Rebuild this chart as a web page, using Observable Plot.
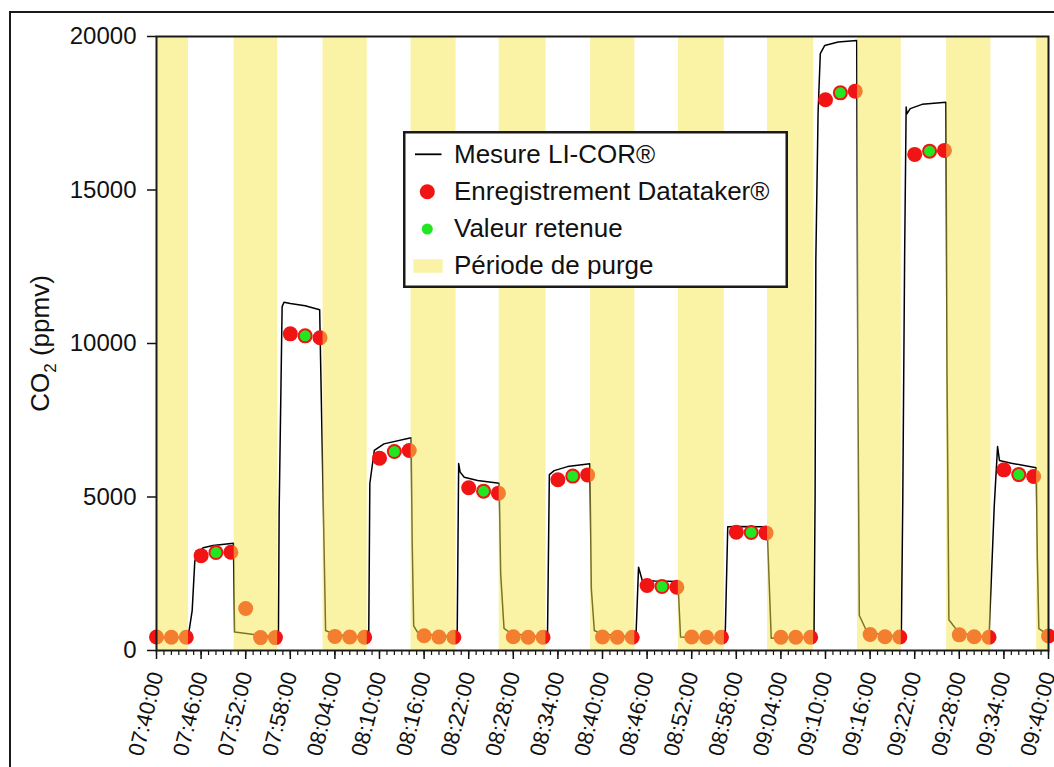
<!DOCTYPE html>
<html>
<head>
<meta charset="utf-8">
<script src="https://cdn.jsdelivr.net/npm/d3@7"></script>
<script src="https://cdn.jsdelivr.net/npm/@observablehq/plot@0.6"></script>
<style>
  html, body { margin: 0; padding: 0; background: #fff; }
  #wrap { position: relative; width: 1054px; height: 767px; overflow: hidden; font-family: "Liberation Sans", Arial, sans-serif; }
  #outer { position: absolute; left: 9px; top: 11px; width: 1100px; height: 800px; border-left: 2.5px solid #1a1a1a; border-top: 2.5px solid #1a1a1a; }
  #chart { position: absolute; left: 0; top: 0; }
  #legend { position: absolute; left: 403px; top: 131px; }
</style>
</head>
<body>
<div id="wrap">
  <div id="outer"></div>
  <div id="chart"></div>
  <div id="legend"></div>
</div>
<script>
// ---- Data ----
const xStart = "07:40:00";
const xEnd = "09:40:00";

const tickLabels = ["07:40:00","07:46:00","07:52:00","07:58:00","08:04:00","08:10:00","08:16:00",
  "08:22:00","08:28:00","08:34:00","08:40:00","08:46:00","08:52:00","08:58:00","09:04:00",
  "09:10:00","09:16:00","09:22:00","09:28:00","09:34:00","09:40:00"];
const yTicks = [0, 5000, 10000, 15000, 20000];

// LI-COR continuous measurement (ppmv)
const licorTime = ["07:40:00","07:42:00","07:44:15","07:44:48","07:45:09","07:45:30","07:46:18","07:47:36","07:50:21",
  "07:50:30","07:54:00","07:56:24","07:56:30","07:56:54","07:57:09","07:58:00","08:00:00","08:01:57",
  "08:02:27","08:02:45","08:03:42","08:05:30","08:08:33","08:08:42","08:09:18","08:10:36","08:14:15",
  "08:14:24","08:14:36","08:15:06","08:16:30","08:20:27","08:20:39","08:20:51","08:21:24","08:23:12","08:26:06",
  "08:26:18","08:26:45","08:27:42","08:30:00","08:32:36","08:32:51","08:33:30","08:35:18","08:38:18",
  "08:38:30","08:38:54","08:39:48","08:42:00","08:44:30","08:44:51","08:45:21","08:47:00","08:50:09",
  "08:50:30","08:52:00","08:56:30","08:56:51","08:58:00","09:02:09",
  "09:02:42","09:04:00","09:08:27","09:08:36","09:08:42","09:09:00","09:09:18","09:09:54","09:11:42","09:14:12",
  "09:14:21","09:14:33","09:15:30","09:16:12","09:18:00","09:20:12","09:20:24","09:20:39","09:20:51","09:20:57",
  "09:21:24","09:23:00","09:26:12","09:26:21","09:26:36","09:27:54","09:30:00","09:32:00","09:32:42","09:33:09",
  "09:33:24","09:35:00","09:38:21","09:38:30","09:38:42","09:39:42","09:40:00"];
const licorPpm = [420,415,430,1300,2900,3170,3350,3420,3490,
  600,490,440,4560,11200,11345,11300,11230,11100,
  4560,650,550,470,440,5440,6515,6730,6930,
  3500,800,600,520,440,6090,5810,5645,5540,5450,
  2500,720,560,480,440,5730,5860,5990,6080,
  2000,650,550,480,440,2715,2280,2260,2250,
  440,420,410,4030,4040,4030,
  400,420,420,5000,12700,17500,19440,19710,19820,19870,
  9000,1140,650,590,500,450,5000,13000,17700,17480,
  17650,17790,17860,9000,1000,590,480,440,4700,6645,
  6190,6100,5950,3000,716,550,530];

// Datataker recordings (every 2 minutes)
const datatakerTime = ["07:40:00","07:42:00","07:44:00","07:46:00","07:48:00","07:50:00","07:52:00","07:54:00",
  "07:56:00","07:58:00","08:00:00","08:02:00","08:04:00","08:06:00","08:08:00","08:10:00","08:12:00","08:14:00",
  "08:16:00","08:18:00","08:20:00","08:22:00","08:24:00","08:26:00","08:28:00","08:30:00","08:32:00","08:34:00",
  "08:36:00","08:38:00","08:40:00","08:42:00","08:44:00","08:46:00","08:48:00","08:50:00","08:52:00","08:54:00",
  "08:56:00","08:58:00","09:00:00","09:02:00","09:04:00","09:06:00","09:08:00","09:10:00","09:12:00","09:14:00",
  "09:16:00","09:18:00","09:20:00","09:22:00","09:24:00","09:26:00","09:28:00","09:30:00","09:32:00","09:34:00",
  "09:36:00","09:38:00","09:40:00"];
const datatakerPpm = [440,430,430,3090,3190,3200,1370,420,
  420,10315,10250,10185,460,440,430,6265,6480,6515,
  480,440,430,5300,5190,5125,450,430,430,5560,
  5680,5720,440,430,430,2117,2085,2060,440,430,
  430,3855,3845,3830,430,430,430,17940,18165,18220,
  520,450,440,16160,16265,16290,510,450,430,5885,
  5730,5670,470];

// Retained values
const retenueTime = ["07:48:00","08:00:00","08:12:00","08:24:00","08:36:00","08:48:00","09:00:00","09:12:00","09:24:00","09:36:00"];
const retenuePpm = [3190,10250,6480,5190,5680,2085,3845,18165,16265,5730];

// Purge periods
const purgeStart = ["07:38:24","07:50:27","08:02:24","08:14:15","08:26:06","08:38:24","08:50:12","09:02:12","09:14:18","09:26:18","09:38:24"];
const purgeEnd   = ["07:44:18","07:56:18","08:08:21","08:20:18","08:32:24","08:44:21","08:56:24","09:08:24","09:20:12","09:32:15","09:44:00"];

// ---- Build ----
const parse = d3.timeParse("%H:%M:%S");
const licor = licorTime.map((t, i) => ({t: parse(t), v: licorPpm[i]}));
const datataker = datatakerTime.map((t, i) => ({t: parse(t), v: datatakerPpm[i]}));
const retenue = retenueTime.map((t, i) => ({t: parse(t), v: retenuePpm[i]}));
const purges = purgeStart.map((s, i) => ({s: parse(s), e: parse(purgeEnd[i])}));
const majorTicks = tickLabels.map(t => ({t: parse(t), label: t}));
const minorTicks = d3.timeMinute.range(parse(xStart), d3.timeMinute.offset(parse(xEnd), 1));

const RED = "#f01414";
const GREEN = "#22e622";
const YELLOW = "#f5e84c";
const YOP = 0.5;

const chart = Plot.plot({
  width: 1054,
  height: 767,
  marginLeft: 156,
  marginRight: 6,
  marginTop: 36,
  marginBottom: 117,
  style: {fontFamily: "'Liberation Sans', Arial, sans-serif", background: "transparent", color: "#111"},
  x: {type: "time", domain: [parse(xStart), parse(xEnd)]},
  y: {domain: [0, 20000]},
  marks: [
    Plot.line(licor, {x: "t", y: "v", stroke: "#000", strokeWidth: 1.5}),
    Plot.dot(datataker, {x: "t", y: "v", r: 7.5, fill: RED}),
    Plot.dot(retenue, {x: "t", y: "v", r: 5.5, fill: GREEN}),
    Plot.rect(purges, {x1: "s", x2: "e", y1: () => 0, y2: () => 20000, fill: YELLOW, fillOpacity: YOP, clip: true}),
    Plot.axisY({ticks: yTicks, tickSize: 9, tickPadding: 11, fontSize: 24, label: null, tickFormat: d => String(d), strokeWidth: 1.5}),
    Plot.axisX({ticks: majorTicks.map(d => d.t), tickSize: 9, label: null, tickFormat: () => "", strokeWidth: 1.5}),
    Plot.axisX({ticks: minorTicks, tickSize: 5, label: null, tickFormat: () => "", strokeWidth: 1.2}),
    Plot.text(majorTicks, {x: "t", text: "label", frameAnchor: "bottom", dy: 22, rotate: -76,
      textAnchor: "end", lineAnchor: "middle", fontSize: 22, fill: "#111"}),
    Plot.frame({stroke: "#1a1a1a", strokeWidth: 2}),
    Plot.text(["CO2 (ppmv)"], {text: d => d, frameAnchor: "left", dx: -116, rotate: -90,
      textAnchor: "middle", lineAnchor: "middle", fontSize: 26, fill: "#111"})
  ]
});
document.getElementById("chart").appendChild(chart);

// subscript for CO2 label
chart.querySelectorAll("text").forEach(t => {
  if (t.textContent === "CO2 (ppmv)") {
    t.textContent = "";
    const ns = "http://www.w3.org/2000/svg";
    const a = document.createElementNS(ns, "tspan"); a.textContent = "CO";
    const b = document.createElementNS(ns, "tspan"); b.textContent = "2"; b.setAttribute("dy", "7"); b.setAttribute("font-size", "17");
    const c = document.createElementNS(ns, "tspan"); c.textContent = " (ppmv)"; c.setAttribute("dy", "-7");
    t.append(a, b, c);
  }
});

// legend
const legendItems = ["Mesure LI-COR®", "Enregistrement Datataker®", "Valeur retenue", "Période de purge"];
const lg = d3.select("#legend").append("svg").attr("width", 386).attr("height", 158)
  .style("font-family", "'Liberation Sans', Arial, sans-serif");
lg.append("rect").attr("x", 1.25).attr("y", 1.25).attr("width", 382.5).attr("height", 154.5)
  .attr("fill", "#fff").attr("stroke", "#1a1a1a").attr("stroke-width", 2.5);
lg.append("line").attr("x1", 12).attr("x2", 38.5).attr("y1", 23.3).attr("y2", 23.3).attr("stroke", "#000").attr("stroke-width", 1.8);
lg.append("circle").attr("cx", 24.3).attr("cy", 60.7).attr("r", 7.5).attr("fill", RED);
lg.append("circle").attr("cx", 24.3).attr("cy", 98).attr("r", 5.5).attr("fill", GREEN);
lg.append("rect").attr("x", 10.3).attr("y", 128.3).attr("width", 29.4).attr("height", 13.4).attr("fill", YELLOW).attr("fill-opacity", YOP);
const baselines = [31.7, 69, 106.3, 143];
legendItems.forEach((s, i) => {
  lg.append("text").attr("x", 51).attr("y", baselines[i]).attr("font-size", 26).attr("fill", "#111").text(s);
});
</script>
</body>
</html>
